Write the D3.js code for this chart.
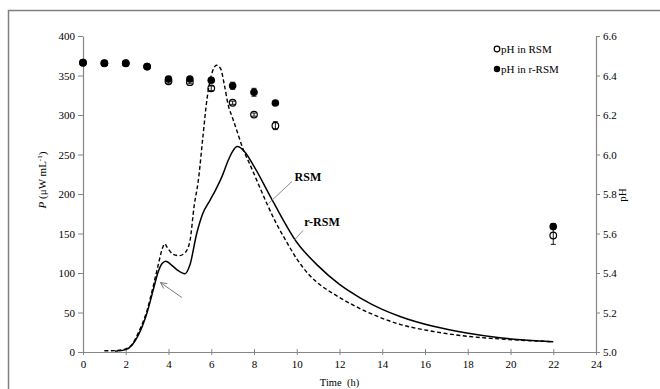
<!DOCTYPE html>
<html>
<head>
<meta charset="utf-8">
<script src="https://cdn.jsdelivr.net/npm/d3@7"></script>
<style>
  html, body { margin: 0; padding: 0; background: #fff; }
  svg { display: block; }
  text { font-family: "Liberation Serif", "Times New Roman", serif; fill: #000; }
</style>
</head>
<body>
<svg id="chart" width="660" height="389"></svg>
<script>
// ---- data ----
const xTicks = [0, 2, 4, 6, 8, 10, 12, 14, 16, 18, 20, 22, 24];
const pTicks = [0, 50, 100, 150, 200, 250, 300, 350, 400];
const phTicks = [5.0, 5.2, 5.4, 5.6, 5.8, 6.0, 6.2, 6.4, 6.6];

// heat flow curve RSM (dashed)
const rsmTime = [1.0, 1.5, 2.0, 2.3, 2.6, 3.0, 3.3, 3.5, 3.7, 3.82, 3.95, 4.2, 4.5, 4.75, 5.0, 5.2, 5.4, 5.6, 5.8, 6.0, 6.25, 6.45, 6.6, 6.8, 7.0, 7.2, 7.5, 7.8, 8.6, 9.0, 9.45, 10.0, 10.5, 11.0, 11.7, 12.0, 13.27, 14.83, 16.39, 17.95, 19.5, 22.0];
const rsmP    = [1.5, 1.8, 4, 10, 25, 53, 85, 108, 130, 137, 132, 124, 122, 125, 140, 185, 218, 270, 320, 350, 363, 358, 340, 312, 296, 280, 256, 238, 188, 165, 143, 118, 100, 87, 74, 69, 51, 35, 26, 20, 16.5, 13];

// heat flow curve r-RSM (solid)
const rrsmTime = [1.5, 2.0, 2.3, 2.6, 3.0, 3.3, 3.5, 3.7, 3.88, 4.1, 4.4, 4.77, 5.0, 5.32, 5.6, 5.94, 6.2, 6.5, 6.8, 7.0, 7.22, 7.58, 8.0, 8.9, 10.0, 11.0, 12.0, 13.0, 14.0, 14.83, 16.39, 17.95, 19.5, 22.0];
const rrsmP    = [1, 3, 9, 22, 50, 80, 100, 112, 115, 111, 104, 99, 110, 150, 175, 192, 205, 222, 243, 254, 260, 253, 235, 190, 139, 109, 85.5, 68, 54, 45, 32.5, 24, 18, 13];

// pH measurements
const phTime   = [0, 1, 2, 3, 4, 5, 6, 7, 8, 9, 22];
const phRSM    = [6.465, 6.462, 6.462, 6.445, 6.371, 6.366, 6.335, 6.262, 6.202, 6.146, 5.59];
const phRSMErr = [0.005, 0, 0, 0, 0.01, 0.008, 0.012, 0.008, 0.008, 0.02, 0.045];
const phRRSM    = [6.465, 6.462, 6.462, 6.445, 6.382, 6.382, 6.376, 6.348, 6.315, 6.261, 5.635];
const phRRSMErr = [0.005, 0, 0, 0, 0.012, 0.01, 0.012, 0.018, 0.02, 0.008, 0.015];

// ---- drawing ----
const svg = d3.select("#chart");
const axisColor = "#868686";

const x = d3.scaleLinear().domain([0, 24]).range([83, 596]);
const yP = d3.scaleLinear().domain([0, 400]).range([352, 36]);
const yPH = d3.scaleLinear().domain([5.0, 6.6]).range([352, 36]);

// outer border
svg.append("rect")
  .attr("x", 8.5).attr("y", 10.5)
  .attr("width", 700).attr("height", 400)
  .attr("fill", "none").attr("stroke", "#7f7f7f").attr("stroke-width", 1.5);

// left axis
const gL = svg.append("g").attr("transform", "translate(83,0)")
  .call(d3.axisLeft(yP).tickValues(pTicks).tickSize(5).tickPadding(3).tickSizeOuter(0));
// right axis
const gR = svg.append("g").attr("transform", "translate(596,0)")
  .call(d3.axisRight(yPH).tickValues(phTicks).tickFormat(d3.format(".1f")).tickSize(4).tickPadding(3).tickSizeOuter(0));
// bottom axis
const gB = svg.append("g").attr("transform", "translate(0,352)")
  .call(d3.axisBottom(x).tickValues(xTicks).tickSize(3).tickPadding(5).tickSizeOuter(0));
gB.selectAll(".tick line").attr("y1", -3).attr("y2", 3);

[gL, gR, gB].forEach(g => {
  g.select(".domain").attr("stroke", axisColor).attr("stroke-width", 1.2);
  g.selectAll(".tick line").attr("stroke", axisColor).attr("stroke-width", 1);
  g.selectAll(".tick text")
    .attr("font-family", "Liberation Serif, serif")
    .attr("font-size", 11).attr("fill", "#222");
});

// axis titles
const yTitle = svg.append("text")
  .attr("transform", "translate(46,180) rotate(-90)")
  .attr("text-anchor", "middle").attr("font-size", 11);
yTitle.append("tspan").attr("font-style", "italic").text("P");
yTitle.append("tspan").text(" (μW mL");
yTitle.append("tspan").attr("font-size", 7).attr("dy", -4).text("-1");
yTitle.append("tspan").attr("dy", 4).text(")");

svg.append("text")
  .attr("transform", "translate(626,195) rotate(-90)")
  .attr("text-anchor", "middle").attr("font-size", 11).text("pH");

svg.append("text")
  .attr("x", x(12)).attr("y", 386)
  .attr("text-anchor", "middle").attr("font-size", 10.5)
  .attr("xml:space", "preserve").text("Time  (h)");

// curves
const line = d3.line().curve(d3.curveMonotoneX);
svg.append("path")
  .attr("d", line(rsmTime.map((t, i) => [x(t), yP(rsmP[i])])))
  .attr("fill", "none").attr("stroke", "#000").attr("stroke-width", 1.4)
  .attr("stroke-dasharray", "4,2.5");
svg.append("path")
  .attr("d", line(rrsmTime.map((t, i) => [x(t), yP(rrsmP[i])])))
  .attr("fill", "none").attr("stroke", "#000").attr("stroke-width", 1.5);

// error bars + points
function errBars(vals, errs) {
  const g = svg.append("g").attr("stroke", "#000").attr("stroke-width", 0.9);
  phTime.forEach((t, i) => {
    if (!errs[i]) return;
    const cx = x(t), y1 = yPH(vals[i] - errs[i]), y2 = yPH(vals[i] + errs[i]);
    g.append("line").attr("x1", cx).attr("x2", cx).attr("y1", y1).attr("y2", y2);
    g.append("line").attr("x1", cx - 2.5).attr("x2", cx + 2.5).attr("y1", y1).attr("y2", y1);
    g.append("line").attr("x1", cx - 2.5).attr("x2", cx + 2.5).attr("y1", y2).attr("y2", y2);
  });
}
errBars(phRSM, phRSMErr);
svg.append("g").selectAll("circle").data(phTime).join("circle")
  .attr("cx", d => x(d)).attr("cy", (d, i) => yPH(phRSM[i])).attr("r", 3.3)
  .attr("fill", "none").attr("stroke", "#000").attr("stroke-width", 1.2);
errBars(phRRSM, phRRSMErr);
svg.append("g").selectAll("circle").data(phTime).join("circle")
  .attr("cx", d => x(d)).attr("cy", (d, i) => yPH(phRRSM[i])).attr("r", 3.8)
  .attr("fill", "#000");

// annotations
const lblColor = "#8c8c8c";
svg.append("line").attr("x1", x(9.78)).attr("y1", yP(216)).attr("x2", x(8.68)).attr("y2", yP(188))
  .attr("stroke", lblColor).attr("stroke-width", 1);
svg.append("text").attr("x", x(9.9)).attr("y", yP(217)).attr("font-size", 12).attr("font-weight", "bold").text("RSM");
svg.append("line").attr("x1", x(10.3)).attr("y1", yP(154)).attr("x2", x(9.9)).attr("y2", yP(142))
  .attr("stroke", lblColor).attr("stroke-width", 1);
svg.append("text").attr("x", x(10.35)).attr("y", yP(160)).attr("font-size", 12).attr("font-weight", "bold").text("r-RSM");

// arrow
const ax1 = x(4.62), ay1 = yP(69), ax2 = x(3.62), ay2 = yP(88);
svg.append("line").attr("x1", ax1).attr("y1", ay1).attr("x2", ax2).attr("y2", ay2)
  .attr("stroke", "#7a7a7a").attr("stroke-width", 1);
const ang = Math.atan2(ay1 - ay2, ax1 - ax2);
const hl = 7, ha = 0.45;
svg.append("path")
  .attr("d", `M${ax2 + hl * Math.cos(ang - ha)},${ay2 + hl * Math.sin(ang - ha)} L${ax2},${ay2} L${ax2 + hl * Math.cos(ang + ha)},${ay2 + hl * Math.sin(ang + ha)}`)
  .attr("fill", "none").attr("stroke", "#7a7a7a").attr("stroke-width", 1);

// legend
const leg = svg.append("g").attr("font-size", 11);
leg.append("circle").attr("cx", 497).attr("cy", 49).attr("r", 2.8)
  .attr("fill", "none").attr("stroke", "#000").attr("stroke-width", 1.2);
leg.append("text").attr("x", 501).attr("y", 52.5).text("pH in RSM");
leg.append("circle").attr("cx", 497).attr("cy", 69).attr("r", 3.2).attr("fill", "#000");
leg.append("text").attr("x", 501).attr("y", 72.5).text("pH in r-RSM");
</script>
</body>
</html>
